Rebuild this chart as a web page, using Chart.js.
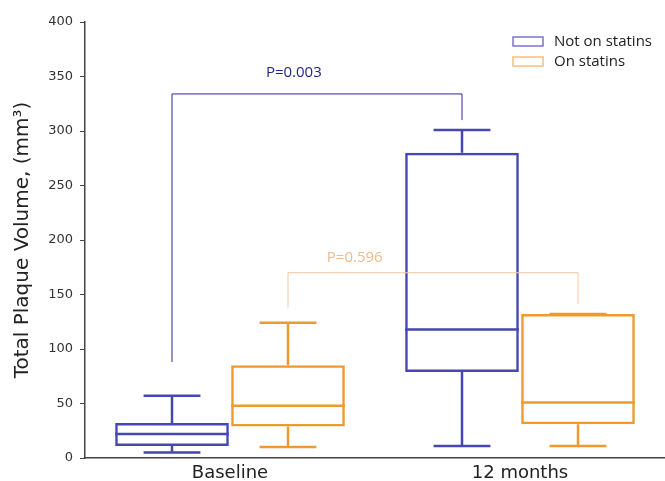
<!DOCTYPE html>
<html>
<head>
<meta charset="utf-8">
<script src="https://cdn.jsdelivr.net/npm/chart.js@4/dist/chart.umd.min.js"></script>
<style>
  html, body { margin: 0; padding: 0; background: #fff; overflow: hidden; }
  #wrap { width: 665px; height: 481px; }
</style>
</head>
<body>
<div id="wrap"><canvas id="grafico"></canvas></div>
<script>
// categorias e series
const categorias = ["Baseline", "12 months"];
const rotulos = ["Not on statins", "On statins"];

// Not on statins
const semMin = [5, 11];
const semQ1 = [11, 79];
const semMediana = [22, 118];
const semQ3 = [32, 280];
const semMax = [57, 301];

// On statins
const comMin = [10, 11];
const comQ1 = [29, 31];
const comMediana = [48, 51];
const comQ3 = [85, 132];
const comMax = [124, 132];

// comparacoes (valores de p)
const pTextos = ["P=0.003", "P=0.596"];
const pNivel = [334, 170];
const pPeEsq = [88, 138];
const pPeDir = [310, 141];
const pTextoY = [353, 184];

const corAzul = "#4747b3";
const corLaranja = "#ee9a2c";

const medianas = [semMediana, comMediana];
const minimos = [semMin, comMin];
const maximos = [semMax, comMax];

// plugin que desenha bigodes, medianas, colchetes e legenda
const plugin_caixas = {
    id: "caixas",
    afterDatasetsDraw(chart){
        const ctx = chart.ctx;
        const y = chart.scales.y;
        ctx.save();
        //Bigodes e medianas
        chart.data.datasets.forEach((ds, d) => {
            const meta = chart.getDatasetMeta(d);
            meta.data.forEach((barra, i) => {
                const x = barra.x;
                const w = barra.width;
                ctx.strokeStyle = ds.borderColor;
                ctx.lineWidth = 2.5;
                ctx.beginPath();
                // mediana
                ctx.moveTo(x - w/2, y.getPixelForValue(medianas[d][i]));
                ctx.lineTo(x + w/2, y.getPixelForValue(medianas[d][i]));
                // bigode de cima
                ctx.moveTo(x, y.getPixelForValue(ds.data[i][1]));
                ctx.lineTo(x, y.getPixelForValue(maximos[d][i]));
                ctx.moveTo(x - w/4, y.getPixelForValue(maximos[d][i]));
                ctx.lineTo(x + w/4, y.getPixelForValue(maximos[d][i]));
                // bigode de baixo
                ctx.moveTo(x, y.getPixelForValue(ds.data[i][0]));
                ctx.lineTo(x, y.getPixelForValue(minimos[d][i]));
                ctx.moveTo(x - w/4, y.getPixelForValue(minimos[d][i]));
                ctx.lineTo(x + w/4, y.getPixelForValue(minimos[d][i]));
                ctx.stroke();
            });
        });

        //Colchetes de significancia
        const corLinha = ["#2a2a8c", "#f4c79e"];
        const corTexto = ["#23238c", "#f0b98a"];
        const fracTexto = [0.42, 0.23];
        pTextos.forEach((txt, d) => {
            const meta = chart.getDatasetMeta(d);
            const x1 = meta.data[0].x;
            const x2 = meta.data[1].x;
            const yn = y.getPixelForValue(pNivel[d]);
            ctx.strokeStyle = corLinha[d];
            ctx.lineWidth = 1;
            ctx.beginPath();
            ctx.moveTo(x1, y.getPixelForValue(pPeEsq[d]));
            ctx.lineTo(x1, yn);
            ctx.lineTo(x2, yn);
            ctx.lineTo(x2, y.getPixelForValue(pPeDir[d]));
            ctx.stroke();
            ctx.fillStyle = corTexto[d];
            ctx.font = "15px 'Open Sans'";
            ctx.textAlign = "center";
            ctx.textBaseline = "middle";
            ctx.fillText(txt, x1 + fracTexto[d]*(x2 - x1), y.getPixelForValue(pTextoY[d]));
        });

        //Legenda
        const coresLegenda = ["#7a74d4", "#f3c07e"];
        chart.data.datasets.forEach((ds, d) => {
            const lx = chart.chartArea.right - 152;
            const ly = 37 + d*20;
            ctx.strokeStyle = coresLegenda[d];
            ctx.lineWidth = 1.5;
            ctx.strokeRect(lx, ly, 30, 9);
            ctx.fillStyle = "#222";
            ctx.font = "15px 'Open Sans'";
            ctx.textAlign = "left";
            ctx.textBaseline = "middle";
            ctx.fillText(ds.label, lx + 41, ly + 4.5);
        });
        ctx.restore();
    }
};

const desenho = new Chart("grafico", {
    type: "bar",
    data: {
        labels: categorias,
        datasets: [{
            label: rotulos[0],
            data: semQ1.map((v, i) => [v, semQ3[i]]),
            backgroundColor: "rgba(0,0,0,0)",
            borderColor: corAzul,
            borderWidth: 2.5,
            borderSkipped: false
        },
        {
            label: rotulos[1],
            data: comQ1.map((v, i) => [v, comQ3[i]]),
            backgroundColor: "rgba(0,0,0,0)",
            borderColor: corLaranja,
            borderWidth: 2.5,
            borderSkipped: false
        }]
    },
    options: {
        responsive: true,
        maintainAspectRatio: false,
        animation: false,
        categoryPercentage: 0.8,
        barPercentage: 0.98,
        layout: { padding: { top: 22, right: 0, left: 0, bottom: 0 } },
        plugins: {
            legend: { display: false },
            tooltip: { enabled: false }
        },
        scales: {
            x: {
                grid: { display: false },
                border: { display: true, color: "#444", width: 1.5 },
                ticks: { color: "#222", font: { family: "'DejaVu Sans'", size: 18 }, padding: -3 },
                afterFit(s){ s.height = 23; }
            },
            y: {
                min: 0,
                max: 400,
                ticks: { stepSize: 50, color: "#333", font: { family: "'DejaVu Sans'", size: 13 }, padding: 7 },
                grid: { drawOnChartArea: false, drawTicks: true, tickLength: 5, color: "#444" },
                border: { display: true, color: "#444", width: 1.5 },
                title: {
                    display: true,
                    text: "Total Plaque Volume, (mm³)",
                    color: "#222",
                    font: { family: "'DejaVu Sans'", size: 20 },
                    padding: { top: 11, bottom: 0 }
                },
                afterFit(s){ s.width = 85; }
            }
        }
    },
    plugins: [plugin_caixas]
});
</script>
</body>
</html>
